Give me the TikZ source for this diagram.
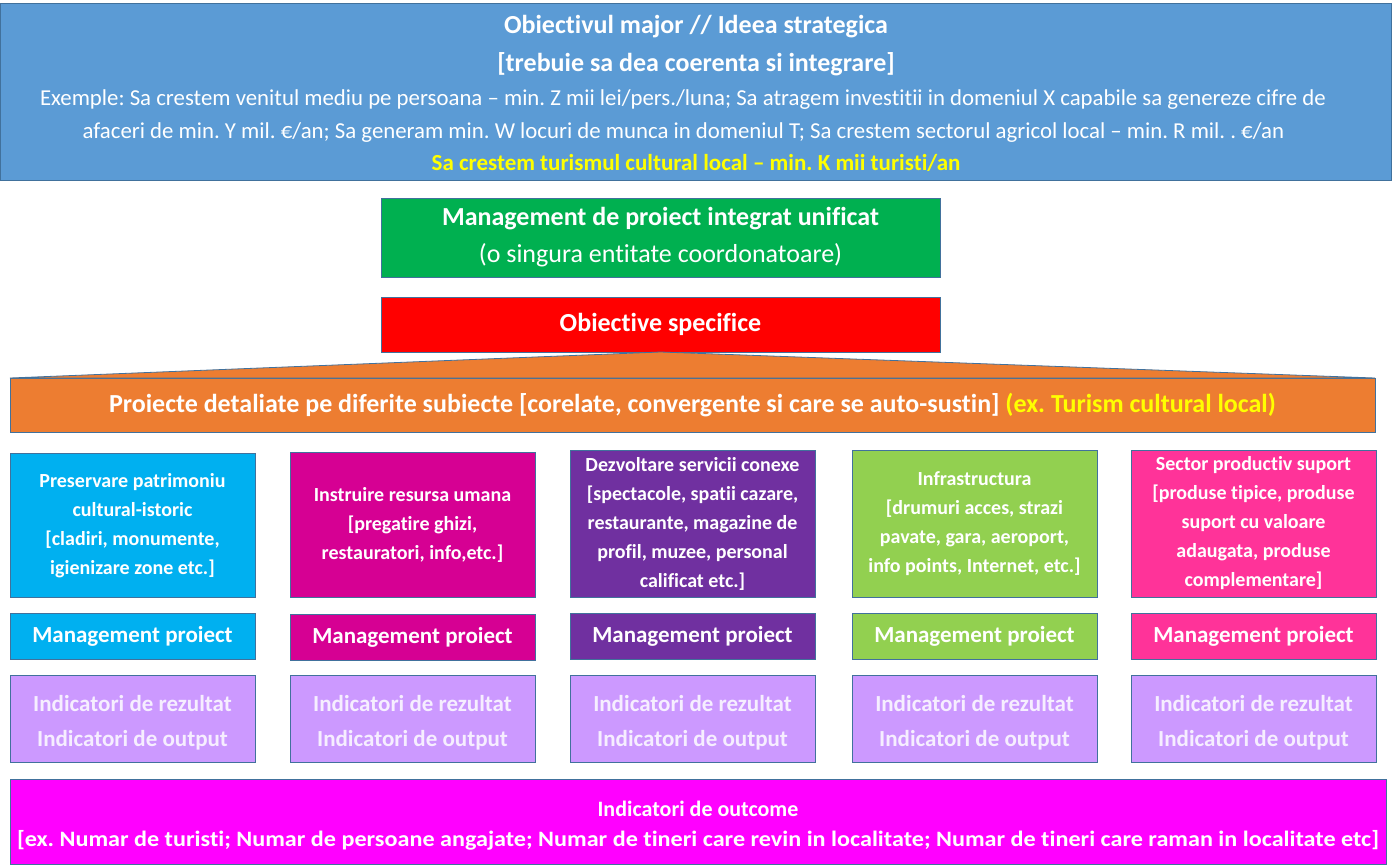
\documentclass[tikz,border=0pt]{standalone}
\usepackage{fontspec}
\usepackage{graphicx}
\setmainfont{Carlito}[Ligatures=NoCommon]
\frenchspacing
\definecolor{edge}{HTML}{41719C}
\definecolor{topblue}{HTML}{5B9BD5}
\definecolor{pmgreen}{HTML}{00B050}
\definecolor{objred}{HTML}{FF0000}
\definecolor{projor}{HTML}{ED7D31}
\definecolor{yel}{HTML}{FFFF00}
\definecolor{ccyan}{HTML}{00B0F0}
\definecolor{cmag}{HTML}{D60093}
\definecolor{cpurp}{HTML}{7030A0}
\definecolor{cgreen}{HTML}{92D050}
\definecolor{cpink}{HTML}{FF3399}
\definecolor{lav}{HTML}{CC99FF}
\definecolor{indtext}{HTML}{F6EEFF}
\definecolor{outc}{HTML}{FF00FF}
\newcommand{\dnstrut}{\rule{0pt}{24pt}}
\begin{document}
\frenchspacing
\begin{tikzpicture}[x=1pt,y=-1pt,
  box/.style={draw=edge, line width=0.8pt, inner sep=0pt, outer sep=0pt, align=center, text=white},
  tline/.style={anchor=base, inner sep=0pt, text=white},
  coltxt/.style={font=\fontsize{20}{29}\selectfont\bfseries},
  mptxt/.style={font=\fontsize{23}{26}\selectfont\bfseries},
  indtxt/.style={font=\fontsize{23}{35}\selectfont\bfseries, text=indtext},
  colbox/.style={box, coltxt, minimum width=245pt},
  mpbox/.style={box, mptxt, minimum width=245pt, minimum height=46pt},
  indbox/.style={box, indtxt, fill=lav, minimum width=245pt, minimum height=87pt}
]
\useasboundingbox (0,0) rectangle (1393,867);

% top box
\node[box, fill=topblue, minimum width=1391pt, minimum height=177pt] (top) at (696,91.5) {};
\node[tline, font=\fontsize{26}{30}\selectfont\bfseries] (t1) at (696,34) {Obiectivul major // Ideea strategica};
\node[tline, font=\fontsize{26}{30}\selectfont\bfseries] (t2) at (696,71) {[trebuie sa dea coerenta si integrare]};
\node[tline, font=\fontsize{22.8}{26}\selectfont] (t3) at (683,106) {Exemple: Sa crestem venitul mediu pe persoana – min. Z mii lei/pers./luna; Sa atragem investitii in domeniul X capabile sa genereze cifre de};
\node[tline, font=\fontsize{22.8}{26}\selectfont] (t4) at (683.5,138) {afaceri de min. Y mil. €/an; Sa generam min. W locuri de munca in domeniul T; Sa crestem sectorul agricol local – min. R mil. . €/an};
\node[tline, font=\fontsize{23}{26}\selectfont\bfseries, text=yel] (t5) at (696,170) {Sa crestem turismul cultural local – min. K mii turisti/an};

% green and red
\node[box, fill=pmgreen, minimum width=559pt, minimum height=79pt, font=\fontsize{26}{37}\selectfont] (pm) at (660.5,237.5)
  {\textbf{Management de proiect integrat unificat}\\(o singura entitate coordonatoare)};
\node[box, fill=objred, minimum width=559pt, minimum height=55pt, font=\fontsize{26}{30}\selectfont\bfseries] (obj) at (660.5,324.5)
  {Obiective specifice};

% orange
\node[box, fill=projor, minimum width=1365pt, minimum height=54pt, font=\fontsize{26}{30}\selectfont\bfseries] (proj) at (692.5,405)
  {Proiecte detaliate pe diferite subiecte [corelate, convergente si care se auto-sustin] \textcolor{yel}{(ex. Turism cultural local)}};
\fill[projor] (proj.north west) -- (obj.south) -- (proj.north east) -- cycle;
\draw[edge, line width=0.8pt] (proj.north east) -- (obj.south) -- (proj.north west) -- (proj.north east);

% columns
\node[colbox, fill=ccyan, minimum height=144pt] (c1) at (132.5,525.5)
  {Preservare patrimoniu\\cultural-istoric\\{[}cladiri, monumente,\\igienizare zone etc.]};
\node[colbox, fill=cmag, minimum height=145pt] (c2) at (412.5,524.5)
  {Instruire resursa umana\\{[}pregatire ghizi,\\restauratori, info,etc.]};
\node[colbox, fill=cpurp, minimum height=147pt] (c3) at (692.5,523.5)
  {Dezvoltare servicii conexe\\{[}spectacole, spatii cazare,\\restaurante, magazine de\\profil, muzee, personal\\calificat etc.]};
\node[colbox, fill=cgreen, minimum height=147pt] (c4) at (974.5,523.5)
  {Infrastructura\\{[}drumuri acces, strazi\\pavate, gara, aeroport,\\info points, Internet, etc.]};
\node[colbox, fill=cpink, minimum height=147pt] (c5) at (1253.5,523.5)
  {Sector productiv suport\\{[}produse tipice, produse\\suport cu valoare\\adaugata, produse\\complementare]};

\node[mpbox, fill=ccyan] (m1) at (132.5,636) {Management proiect};
\node[mpbox, fill=cmag] (m2) at (412.5,637) {Management proiect};
\node[mpbox, fill=cpurp] (m3) at (692.5,636) {Management proiect};
\node[mpbox, fill=cgreen] (m4) at (974.5,636) {Management proiect};
\node[mpbox, fill=cpink] (m5) at (1253.5,636) {Management proiect};

\node[indbox] (i1) at (132.5,718.5) {\dnstrut Indicatori de rezultat\\Indicatori de output};
\node[indbox] (i2) at (412.5,718.5) {\dnstrut Indicatori de rezultat\\Indicatori de output};
\node[indbox] (i3) at (692.5,718.5) {\dnstrut Indicatori de rezultat\\Indicatori de output};
\node[indbox] (i4) at (974.5,718.5) {\dnstrut Indicatori de rezultat\\Indicatori de output};
\node[indbox] (i5) at (1253.5,718.5) {\dnstrut Indicatori de rezultat\\Indicatori de output};

% bottom
\node[box, fill=outc, minimum width=1376pt, minimum height=85pt, font=\fontsize{22}{30}\selectfont\bfseries] (out) at (698,821.5)
  {\dnstrut Indicatori de outcome\\\resizebox{1362pt}{\height}{[ex. Numar de turisti; Numar de persoane angajate; Numar de tineri care revin in localitate; Numar de tineri care raman in localitate etc]}};
\end{tikzpicture}
\end{document}
